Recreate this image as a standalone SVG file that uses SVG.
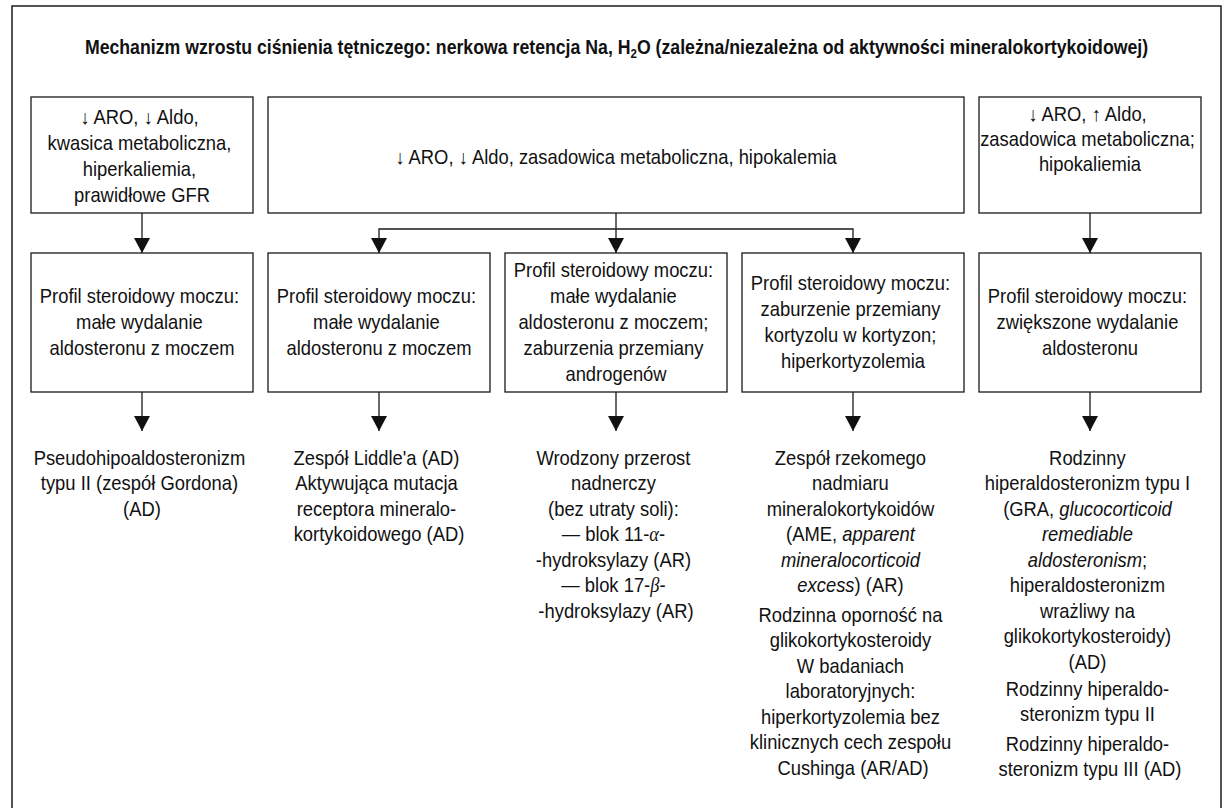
<svg xmlns="http://www.w3.org/2000/svg" width="1223" height="808" viewBox="0 0 1223 808">
  <defs>
    <style>
      .frame { fill: none; stroke: #2a2a2a; stroke-width: 1.6; }
      .box { fill: #fff; stroke: #1a1a1a; stroke-width: 1.3; }
      .t { font-family: "Liberation Sans", Arial, sans-serif; font-size: 20px; fill: #111; text-anchor: middle; }
      .title { font-family: "Liberation Sans", Arial, sans-serif; font-size: 20px; font-weight: bold; fill: #111; text-anchor: middle; }
      .it { font-style: italic; }
      .gr { font-family: "Liberation Serif", "DejaVu Serif", serif; font-style: italic; }
      .link { fill: none; stroke: #1a1a1a; stroke-width: 1.3; }
    </style>
    <marker id="ah" viewBox="0 0 15 16" refX="15" refY="8" markerWidth="15" markerHeight="16" markerUnits="userSpaceOnUse" orient="auto">
      <path d="M0,0 L15,8 L0,16 z" fill="#111"/>
    </marker>
  </defs>

  <rect x="0" y="0" width="1223" height="808" fill="#fff"/>
  <rect class="frame" x="12" y="6" width="1209" height="804"/>

  <g id="title">
    <text class="title" transform="translate(616.5 0) scale(0.885 1)" x="0" y="54">Mechanizm wzrostu ciśnienia tętniczego: nerkowa retencja Na, H<tspan font-size="13" dy="4">2</tspan><tspan dy="-4">O (zależna/niezależna od aktywności mineralokortykoidowej)</tspan></text>
  </g>

  <!-- connectors -->
  <g id="connectors">
    <path class="link" d="M142,213 V253" marker-end="url(#ah)"/>
    <path class="link" d="M1090,213 V253" marker-end="url(#ah)"/>
    <path class="link" d="M616,213 V253" marker-end="url(#ah)"/>
    <path class="link" d="M616,229 H379 V253" marker-end="url(#ah)"/>
    <path class="link" d="M616,229 H853 V253" marker-end="url(#ah)"/>
    <path class="link" d="M142,392 V431" marker-end="url(#ah)"/>
    <path class="link" d="M379,392 V431" marker-end="url(#ah)"/>
    <path class="link" d="M616,392 V431" marker-end="url(#ah)"/>
    <path class="link" d="M853,392 V431" marker-end="url(#ah)"/>
    <path class="link" d="M1090,392 V431" marker-end="url(#ah)"/>
  </g>

  <!-- top row: laboratory findings -->
  <g id="lab-acidosis">
    <rect class="box" x="31" y="97" width="222" height="116"/>
    <text class="t" transform="translate(142 0) scale(0.92 1)">
      <tspan x="0" y="124">↓ ARO, ↓ Aldo,</tspan>
      <tspan x="0" y="150">kwasica metaboliczna,</tspan>
      <tspan x="0" y="176">hiperkaliemia,</tspan>
      <tspan x="0" y="202">prawidłowe GFR</tspan>
    </text>
  </g>
  <g id="lab-alkalosis-low">
    <rect class="box" x="268" y="97" width="696" height="116"/>
    <text class="t" transform="translate(616 0) scale(0.92 1)">
      <tspan x="0" y="164">↓ ARO, ↓ Aldo, zasadowica metaboliczna, hipokalemia</tspan>
    </text>
  </g>
  <g id="lab-alkalosis-high">
    <rect class="box" x="979" y="97" width="222" height="116"/>
    <text class="t" transform="translate(1090 0) scale(0.92 1)">
      <tspan x="0" y="121">↓ ARO, ↑ Aldo,</tspan>
      <tspan x="0" y="146">zasadowica metaboliczna;</tspan>
      <tspan x="0" y="171">hipokaliemia</tspan>
    </text>
  </g>

  <!-- middle row: urinary steroid profile -->
  <g id="profile-1">
    <rect class="box" x="31" y="253" width="222" height="139"/>
    <text class="t" transform="translate(142 0) scale(0.92 1)">
      <tspan x="0" y="303">Profil steroidowy moczu:</tspan>
      <tspan x="0" y="329">małe wydalanie</tspan>
      <tspan x="0" y="355">aldosteronu z moczem</tspan>
    </text>
  </g>
  <g id="profile-2">
    <rect class="box" x="268" y="253" width="222" height="139"/>
    <text class="t" transform="translate(379 0) scale(0.92 1)">
      <tspan x="0" y="303">Profil steroidowy moczu:</tspan>
      <tspan x="0" y="329">małe wydalanie</tspan>
      <tspan x="0" y="355">aldosteronu z moczem</tspan>
    </text>
  </g>
  <g id="profile-3">
    <rect class="box" x="505" y="253" width="222" height="139"/>
    <text class="t" transform="translate(616 0) scale(0.92 1)">
      <tspan x="0" y="277">Profil steroidowy moczu:</tspan>
      <tspan x="0" y="303">małe wydalanie</tspan>
      <tspan x="0" y="329">aldosteronu z moczem;</tspan>
      <tspan x="0" y="355">zaburzenia przemiany</tspan>
      <tspan x="0" y="381">androgenów</tspan>
    </text>
  </g>
  <g id="profile-4">
    <rect class="box" x="742" y="253" width="222" height="139"/>
    <text class="t" transform="translate(853 0) scale(0.92 1)">
      <tspan x="0" y="290">Profil steroidowy moczu:</tspan>
      <tspan x="0" y="316">zaburzenie przemiany</tspan>
      <tspan x="0" y="342">kortyzolu w kortyzon;</tspan>
      <tspan x="0" y="368">hiperkortyzolemia</tspan>
    </text>
  </g>
  <g id="profile-5">
    <rect class="box" x="979" y="253" width="222" height="139"/>
    <text class="t" transform="translate(1090 0) scale(0.92 1)">
      <tspan x="0" y="303">Profil steroidowy moczu:</tspan>
      <tspan x="0" y="329">zwiększone wydalanie</tspan>
      <tspan x="0" y="355">aldosteronu</tspan>
    </text>
  </g>

  <!-- bottom row: diagnoses -->
  <g id="dx-1">
    <text class="t" transform="translate(142 0) scale(0.92 1)">
      <tspan x="0" y="465">Pseudohipoaldosteronizm</tspan>
      <tspan x="0" y="490.5">typu II (zespół Gordona)</tspan>
      <tspan x="0" y="516">(AD)</tspan>
    </text>
  </g>
  <g id="dx-2">
    <text class="t" transform="translate(379 0) scale(0.92 1)">
      <tspan x="0" y="465">Zespół Liddle'a (AD)</tspan>
      <tspan x="0" y="490.5">Aktywująca mutacja</tspan>
      <tspan x="0" y="516">receptora mineralo-</tspan>
      <tspan x="0" y="541.5">kortykoidowego (AD)</tspan>
    </text>
  </g>
  <g id="dx-3">
    <text class="t" transform="translate(616 0) scale(0.92 1)">
      <tspan x="0" y="465">Wrodzony przerost</tspan>
      <tspan x="0" y="490.5">nadnerczy</tspan>
      <tspan x="0" y="516">(bez utraty soli):</tspan>
      <tspan x="0" y="541.5">— blok 11-<tspan class="gr">α</tspan>-</tspan>
      <tspan x="0" y="567">-hydroksylazy (AR)</tspan>
      <tspan x="0" y="592.5">— blok 17-<tspan class="gr">β</tspan>-</tspan>
      <tspan x="0" y="618">-hydroksylazy (AR)</tspan>
    </text>
  </g>
  <g id="dx-4">
    <text class="t" transform="translate(853 0) scale(0.92 1)">
      <tspan x="0" y="465">Zespół rzekomego</tspan>
      <tspan x="0" y="490.5">nadmiaru</tspan>
      <tspan x="0" y="516">mineralokortykoidów</tspan>
      <tspan x="0" y="541.5">(AME, <tspan class="it">apparent</tspan></tspan>
      <tspan x="0" y="567" class="it">mineralocorticoid</tspan>
      <tspan x="0" y="592.5"><tspan class="it">excess</tspan>) (AR)</tspan>
      <tspan x="0" y="622">Rodzinna oporność na</tspan>
      <tspan x="0" y="647.5">glikokortykosteroidy</tspan>
      <tspan x="0" y="673">W badaniach</tspan>
      <tspan x="0" y="698.5">laboratoryjnych:</tspan>
      <tspan x="0" y="724">hiperkortyzolemia bez</tspan>
      <tspan x="0" y="749.5">klinicznych cech zespołu</tspan>
      <tspan x="0" y="775">Cushinga (AR/AD)</tspan>
    </text>
  </g>
  <g id="dx-5">
    <text class="t" transform="translate(1090 0) scale(0.92 1)">
      <tspan x="0" y="465">Rodzinny</tspan>
      <tspan x="0" y="490.5">hiperaldosteronizm typu I</tspan>
      <tspan x="0" y="516">(GRA, <tspan class="it">glucocorticoid</tspan></tspan>
      <tspan x="0" y="541.5" class="it">remediable</tspan>
      <tspan x="0" y="567"><tspan class="it">aldosteronism</tspan>;</tspan>
      <tspan x="0" y="592.5">hiperaldosteronizm</tspan>
      <tspan x="0" y="618">wrażliwy na</tspan>
      <tspan x="0" y="643.5">glikokortykosteroidy)</tspan>
      <tspan x="0" y="669">(AD)</tspan>
      <tspan x="0" y="696">Rodzinny hiperaldo-</tspan>
      <tspan x="0" y="721.5">steronizm typu II</tspan>
      <tspan x="0" y="751">Rodzinny hiperaldo-</tspan>
      <tspan x="0" y="776.5">steronizm typu III (AD)</tspan>
    </text>
  </g>
</svg>
